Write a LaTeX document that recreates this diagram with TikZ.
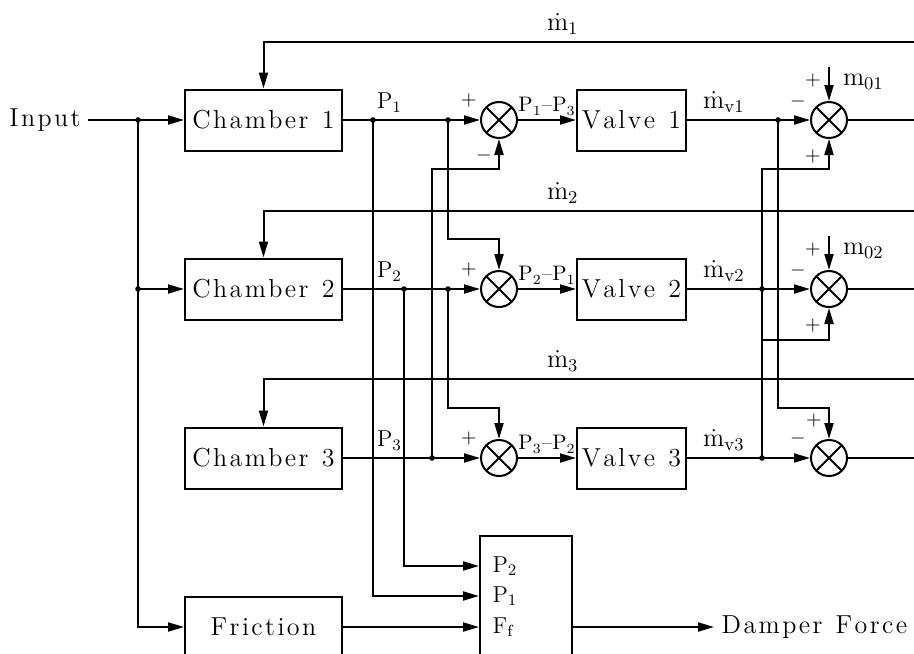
\documentclass[tikz,border=0pt]{standalone}
\usepackage{fontspec}
\usepackage{amsmath}
\usepackage{tikz}
\usetikzlibrary{arrows.meta,positioning,calc}

% spaced-out lettering for the block texts
\def\lspx#1{\ifx#1\relax\else#1\kern1.2pt\expandafter\lspx\fi}
\newcommand\lsp[1]{\lspx#1\relax\unkern}

\begin{document}
\begin{tikzpicture}[
  x=0.5pt, y=-0.5pt,
  line width=1pt,
  node distance=53pt and 68.5pt,
  txt/.style={font=\fontsize{13}{15}\selectfont},
  box/.style={draw, txt, minimum width=78.5pt, minimum height=30.5pt, inner sep=0pt},
  vbox/.style={box, minimum width=54.5pt},
  blk/.style={draw, minimum width=46pt, minimum height=70pt, inner sep=0pt},
  sumc/.style={draw, circle, minimum size=18pt, inner sep=0pt,
    path picture={\draw (path picture bounding box.north west) -- (path picture bounding box.south east)
      (path picture bounding box.north east) -- (path picture bounding box.south west);}},
  sgn/.style={font=\fontsize{10}{11}\selectfont, inner sep=0pt},
  lbl/.style={font=\fontsize{11.5}{13}\selectfont},
  mlbl/.style={font=\fontsize{13}{15}\selectfont},
  dlbl/.style={font=\fontsize{10.5}{12}\selectfont, inner sep=2pt},
  arr/.style={-{Triangle[length=8pt,width=4.5pt]}}
]
\useasboundingbox (0,0) rectangle (914,653);
\clip (0,0) rectangle (914,653);

% blocks
\node[box] (ch1) at (263.5,120) {\lsp{Chamber\ 1}};
\node[box, below=of ch1] (ch2) {\lsp{Chamber\ 2}};
\node[box, below=of ch2] (ch3) {\lsp{Chamber\ 3}};
\node[box, below=of ch3] (fr) {\lsp{Friction}};
\node[sumc, right=of ch1] (s1) {};
\node[sumc, right=of ch2] (s2) {};
\node[sumc, right=of ch3] (s3) {};
\node[vbox, right=29pt of s1] (v1) {\lsp{Valve\ 1}};
\node[vbox, right=29pt of s2] (v2) {\lsp{Valve\ 2}};
\node[vbox, right=29pt of s3] (v3) {\lsp{Valve\ 3}};
\node[sumc, right=61.5pt of v1] (r1) {};
\node[sumc, right=61.5pt of v2] (r2) {};
\node[sumc, right=61.5pt of v3] (r3) {};
\node[blk, anchor=north west] (blk) at (479,535) {};
\node[txt] (in) at (45,120) {\lsp{Input}};
\coordinate (dfx) at (714,0);
\node[txt, anchor=west] (df) at (fr -| dfx) {\lsp{Damper\ Force}};

% junctions and ends
\coordinate (jin1) at (138,120);
\coordinate (jin2) at (jin1 |- ch2);
\coordinate (jp1a) at (373,120);
\coordinate (jp1b) at (448,120);
\coordinate (jp2a) at ($(jp1a |- ch2)+(31,0)$);
\coordinate (jp2b) at (jp1b |- ch2);
\coordinate (jp3) at ($(jp1b |- ch3)+(-16,0)$);
\coordinate (jm1) at (778,120);
\coordinate (jm2) at ($(jm1 |- v2)+(-16,0)$);
\coordinate (jm3) at (jm2 |- v3);
\coordinate (inF) at (fr.east -| blk.west);
\coordinate (inP1) at ($(inF)+(0,-31)$);
\coordinate (inP2) at ($(inF)+(0,-61)$);
\coordinate (f1) at (914,42);
\coordinate (f2) at (914,211);
\coordinate (f3) at (914,379);
\coordinate (o1) at (r1 -| f1);
\coordinate (o2) at (r2 -| f1);
\coordinate (o3) at (r3 -| f1);
\coordinate (m01) at ([yshift=17pt]r1.north);
\coordinate (m02) at ([yshift=17pt]r2.north);

% input
\draw[arr] (in) -- (ch1);
\draw[arr] (jin1) |- (ch2);
\draw[arr] (jin1) |- (fr);

% feedback flows
\draw[arr] (f1) -| node[mlbl, above, pos=0.27] (lm1) {$\dot{\mathrm{m}}_1$} (ch1);
\draw[arr] (f2) -| node[mlbl, above, pos=0.27] (lm2) {$\dot{\mathrm{m}}_2$} (ch2);
\draw[arr] (f3) -| node[mlbl, above, pos=0.27] (lm3) {$\dot{\mathrm{m}}_3$} (ch3);

% pressures
\draw[arr] (ch1) -- node[lbl, above, pos=0.34] (lp1) {$\mathrm{P}_1$} (s1);
\draw[arr] (ch2) -- node[lbl, above, pos=0.34] (lp2) {$\mathrm{P}_2$} (s2);
\draw[arr] (ch3) -- node[lbl, above, pos=0.34] (lp3) {$\mathrm{P}_3$} (s3);
\draw[arr] (jp1a) |- (inP1);
\draw[arr] (jp2a) |- (inP2);
\draw[arr] (jp1b) |- ([yshift=15.5pt]s2.north) -- (s2);
\draw[arr] (jp2b) |- ([yshift=15.5pt]s3.north) -- (s3);
\draw[arr] (jp3) |- ([yshift=-15pt]s1.south) -- (s1);

% differences to valves
\draw[arr] (s1) -- node[dlbl, above] (d1) {$\mathrm{P}_1$--$\mathrm{P}_3$} (v1);
\draw[arr] (s2) -- node[dlbl, above] (d2) {$\mathrm{P}_2$--$\mathrm{P}_1$} (v2);
\draw[arr] (s3) -- node[dlbl, above] (d3) {$\mathrm{P}_3$--$\mathrm{P}_2$} (v3);

% valve flows
\draw[arr] (v1) -- node[mlbl, above, pos=0.3] (lv1) {$\dot{\mathrm{m}}_{\mathrm{v}1}$} (r1);
\draw[arr] (v2) -- node[mlbl, above, pos=0.3] (lv2) {$\dot{\mathrm{m}}_{\mathrm{v}2}$} (r2);
\draw[arr] (v3) -- node[mlbl, above, pos=0.3] (lv3) {$\dot{\mathrm{m}}_{\mathrm{v}3}$} (r3);
\draw[arr] (jm1) |- ([yshift=15.5pt]r3.north) -- (r3);
\draw[arr] (jm2) |- ([yshift=-15pt]r1.south) -- (r1);
\draw[arr] (jm3) |- ([yshift=-16pt]r2.south) -- (r2);
\draw (jm2) -- (jm3);
\draw[arr] (m01) -- (r1);
\draw[arr] (m02) -- (r2);
\draw (r1) -- (o1);
\draw (r2) -- (o2);
\draw (r3) -- (o3);
\node[mlbl, anchor=west, inner sep=0pt] (lm01) at ([shift={(6.5pt,19pt)}]r1.center) {$\mathrm{m}_{01}$};
\node[mlbl, anchor=west, inner sep=0pt] (lm02) at ([shift={(6.5pt,19pt)}]r2.center) {$\mathrm{m}_{02}$};

% force
\draw[arr] (fr) -- (inF);
\draw[arr] (inF -| blk.east) -- (df);
\node[lbl, anchor=west] (bp2) at ([xshift=3pt]inP2) {$\mathrm{P}_2$};
\node[lbl, anchor=west] (bp1) at ([xshift=3pt]inP1) {$\mathrm{P}_1$};
\node[lbl, anchor=west] (bf) at ([xshift=3pt]inF) {$\mathrm{F}_\mathrm{f}$};

% signs
\node[sgn] (g1a) at ([shift={(-15pt,10pt)}]s1.center) {$+$};
\node[sgn] (g1b) at ([shift={(-7.5pt,-17.5pt)}]s1.center) {$-$};
\node[sgn] (g2a) at ([shift={(-15pt,10pt)}]s2.center) {$+$};
\node[sgn] (g3a) at ([shift={(-15pt,10pt)}]s3.center) {$+$};
\node[sgn] (h1a) at ([shift={(-8pt,20pt)}]r1.center) {$+$};
\node[sgn] (h1b) at ([shift={(-15.5pt,9.5pt)}]r1.center) {$-$};
\node[sgn] (h1c) at ([shift={(-8pt,-18pt)}]r1.center) {$+$};
\node[sgn] (h2a) at ([shift={(-8pt,20pt)}]r2.center) {$+$};
\node[sgn] (h2b) at ([shift={(-15.5pt,9.5pt)}]r2.center) {$-$};
\node[sgn] (h2c) at ([shift={(-8pt,-18pt)}]r2.center) {$+$};
\node[sgn] (h3a) at ([shift={(-7.5pt,19pt)}]r3.center) {$+$};
\node[sgn] (h3b) at ([shift={(-15.5pt,10pt)}]r3.center) {$-$};

% dots
\foreach \j in {jin1,jin2,jp1a,jp1b,jp2a,jp2b,jp3,jm1,jm2,jm3}
  \fill (\j) circle (1.4pt);
\end{tikzpicture}
\end{document}
